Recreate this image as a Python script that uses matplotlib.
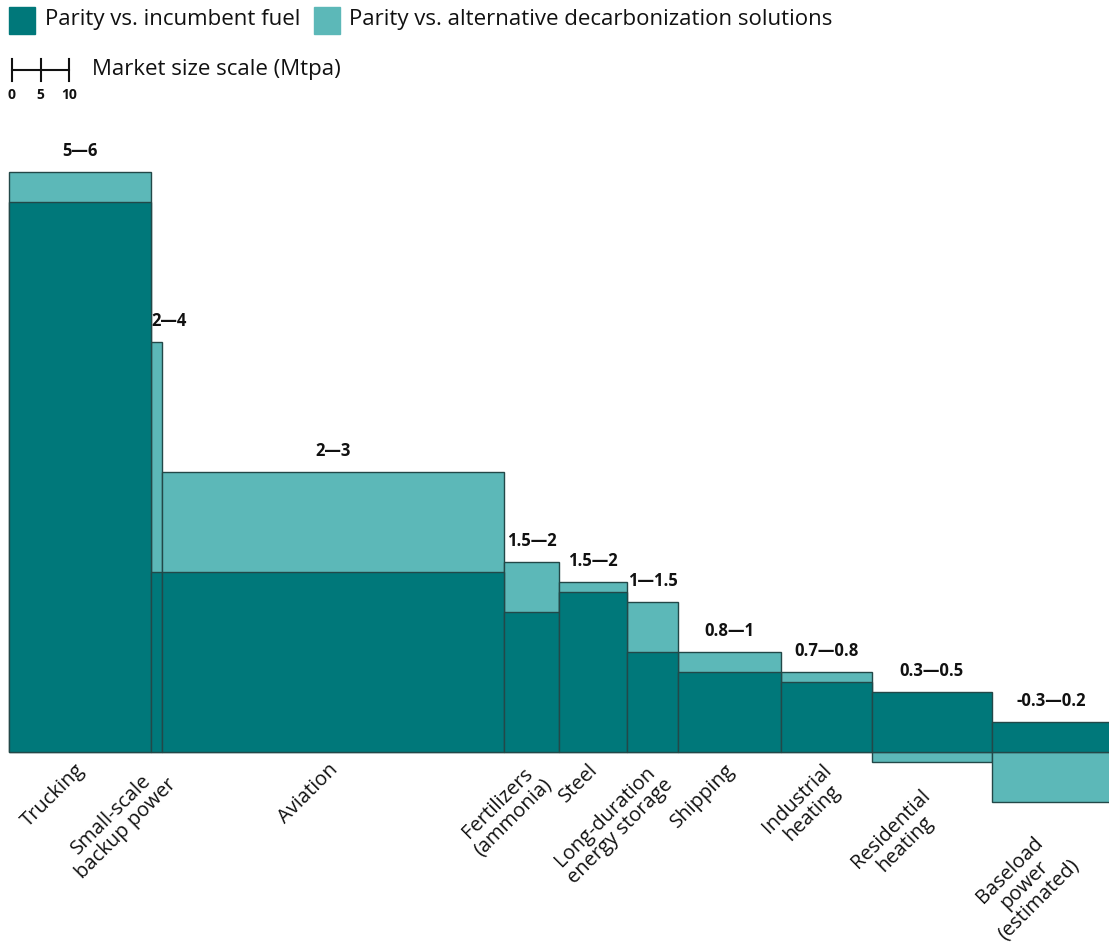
import matplotlib.pyplot as plt
from matplotlib.patches import Rectangle

plt.rcParams['font.family'] = ['Open Sans', 'DejaVu Sans']

sectors = ['Trucking', 'Small-scale\nbackup power', 'Aviation', 'Fertilizers\n(ammonia)', 'Steel',
           'Long-duration\nenergy storage', 'Shipping', 'Industrial\nheating', 'Residential\nheating',
           'Baseload\npower\n(estimated)']
market_size = [25, 2, 60, 9.5, 12, 9, 18, 16, 21, 21]          # Mtpa (bar width)
parity_incumbent = [5.5, 1.8, 1.8, 1.4, 1.6, 1.0, 0.8, 0.7, 0.6, 0.3]
parity_alternative = [5.8, 4.1, 2.8, 1.9, 1.7, 1.5, 1.0, 0.8, -0.1, -0.5]
range_labels = ['5—6', '2—4', '2—3', '1.5—2', '1.5—2', '1—1.5', '0.8—1', '0.7—0.8', '0.3—0.5', '-0.3—0.2']

dark = '#00787a'
light = '#5cb8b8'
edge = '#234848'

W, H = 1109, 944
fig = plt.figure(figsize=(W / 100, H / 100), dpi=100)

# main axes: 5.7 px per Mtpa, 100 px per unit, zero line at y=752 px, bars start at x=8.5 px
px_x, px_y, x0, y0 = 5.7, 100.0, 8.5, 752
ax = fig.add_axes([0, 0, 1, 1])
ax.set_xlim(-x0 / px_x, (W - x0) / px_x)
ax.set_ylim(-(H - y0) / px_y, y0 / px_y)
ax.axis('off')

left = 0
for i in range(len(sectors)):
    w = market_size[i]
    inc = parity_incumbent[i]
    alt = parity_alternative[i]
    ax.bar(left, alt, width=w, align='edge', color=light, edgecolor=edge, linewidth=1, zorder=2)
    ax.bar(left, inc, width=w, align='edge', color=dark, edgecolor=edge, linewidth=1, zorder=3)

    top = max(inc, alt, 0)
    bottom = min(inc, alt, 0)
    cx = left + w / 2
    if w < 5:
        ax.annotate(range_labels[i], (left, top), xytext=(0, 21), textcoords='offset pixels',
                    ha='left', va='center', fontsize=12, fontweight='bold', color='#111111')
    else:
        ax.annotate(range_labels[i], (cx, top), xytext=(0, 21), textcoords='offset pixels',
                    ha='center', va='center', fontsize=12, fontweight='bold', color='#111111')

    dx, dy = (-5, -8) if bottom >= 0 else (-12, -24)
    ax.annotate(sectors[i], (cx, bottom), xytext=(dx, dy), textcoords='offset pixels',
                ha='right', va='top', rotation=45, rotation_mode='anchor',
                multialignment='center', fontsize=14.5, color='#111111', linespacing=1.05)
    left += w

# legend and market size scale, in pixel coordinates
lg = fig.add_axes([0, 0, 1, 1], facecolor='none')
lg.set_xlim(0, W)
lg.set_ylim(H, 0)
lg.axis('off')
lg.add_patch(Rectangle((9, 7), 26, 27, color=dark))
lg.text(45, 20, 'Parity vs. incumbent fuel', va='center', ha='left', fontsize=16, color='#111111')
lg.add_patch(Rectangle((314, 7), 26, 27, color=light))
lg.text(349, 20, 'Parity vs. alternative decarbonization solutions', va='center', ha='left',
        fontsize=16, color='#111111')

scale_ticks = [0, 5, 10]
sx = lambda v: 12 + v * px_x
lg.plot([sx(0), sx(10)], [70, 70], color='#111111', lw=1.5)
for t in scale_ticks:
    lg.plot([sx(t), sx(t)], [59, 81], color='#111111', lw=1.5)
    lg.text(sx(t), 95, str(t), ha='center', va='center', fontsize=10, fontweight='bold', color='#111111')
lg.text(92, 70, 'Market size scale (Mtpa)', va='center', ha='left', fontsize=16, color='#111111')

fig.savefig('out.png', dpi=100)
